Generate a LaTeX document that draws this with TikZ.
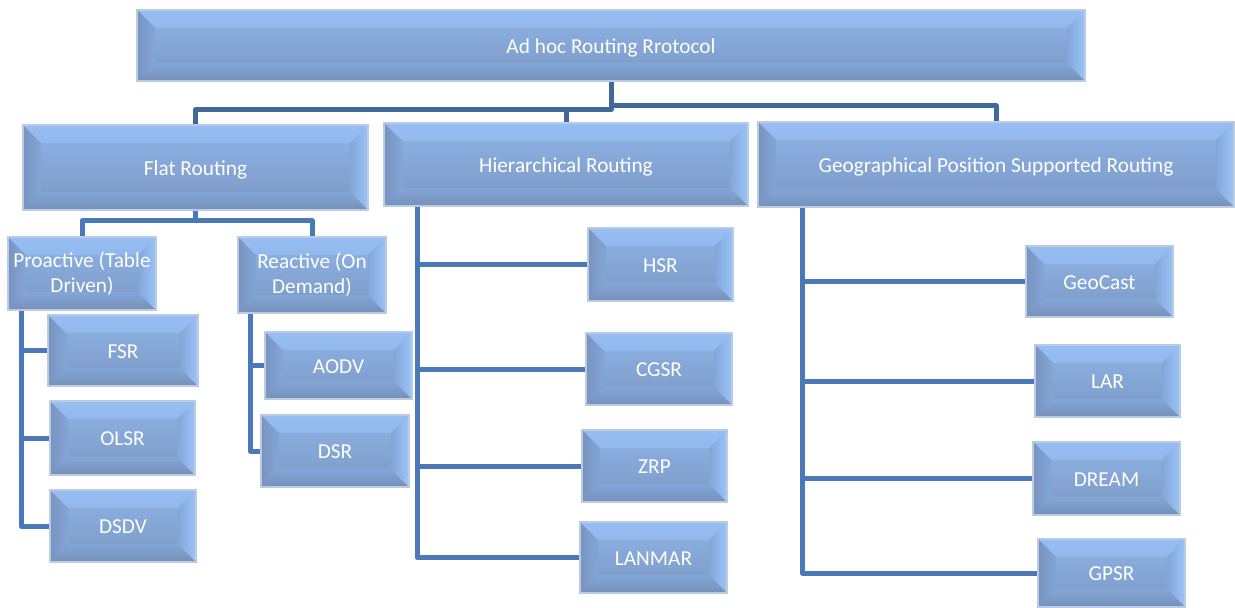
\documentclass[tikz,border=0pt]{standalone}
\usepackage{fontspec}
\setmainfont{Carlito}
\definecolor{faceT}{HTML}{8EB4E8}
\definecolor{faceM}{HTML}{83A6D8}
\definecolor{faceB}{HTML}{7C98C3}
\definecolor{bevL}{HTML}{7A93BE}
\definecolor{bevR}{HTML}{9CC4F8}
\definecolor{bevT}{HTML}{97BEF4}
\definecolor{bevB}{HTML}{7690B8}
\definecolor{bord}{HTML}{BACCE3}
\definecolor{lnA}{HTML}{41689A}
\definecolor{lnB}{HTML}{4A78B8}
\tikzset{
  bevel/.style={draw=bord, line width=1.5pt, top color=faceT, middle color=faceM, bottom color=faceB,
    text=white, font=\fontsize{21.3}{25}\selectfont, align=center, inner sep=1pt,
    path picture={
      \path[top color=bevT, bottom color=faceM]
        (path picture bounding box.north west) -- (path picture bounding box.north east)
        -- ([shift={(-18pt,-18pt)}]path picture bounding box.north east)
        -- ([shift={(18pt,-18pt)}]path picture bounding box.north west) -- cycle;
      \path[top color=faceM, bottom color=bevB]
        (path picture bounding box.south west) -- (path picture bounding box.south east)
        -- ([shift={(-18pt,18pt)}]path picture bounding box.south east)
        -- ([shift={(18pt,18pt)}]path picture bounding box.south west) -- cycle;
      \path[left color=bevL, right color=faceM]
        (path picture bounding box.south west) -- (path picture bounding box.north west)
        -- ([shift={(18pt,-18pt)}]path picture bounding box.north west)
        -- ([shift={(18pt,18pt)}]path picture bounding box.south west) -- cycle;
      \path[left color=faceM, right color=bevR]
        (path picture bounding box.south east) -- (path picture bounding box.north east)
        -- ([shift={(-18pt,-18pt)}]path picture bounding box.north east)
        -- ([shift={(-18pt,18pt)}]path picture bounding box.south east) -- cycle;
    }},
  oneline/.style={text height=15pt, text depth=0pt},
  twoline/.style={},
  conn/.style={draw=lnB, line width=5pt, line join=round},
  topconn/.style={draw=lnA, line width=5pt, line join=round}
}
\newcommand\bxn[7][oneline]{\node[bevel, #1, minimum width={(#5-#3)*1pt}, minimum height={(#6-#4)*1pt}] (#2) at ({(#3+#5)/2},{(#4+#6)/2}) {#7};}
\begin{document}
\begin{tikzpicture}[x=1pt,y=-1pt]
\useasboundingbox (0,0) rectangle (1235,608);
\bxn{root}{137}{10}{1085}{81}{Ad hoc Routing Rrotocol}
\bxn{flat}{23}{125}{368}{210}{Flat Routing}
\bxn{hier}{384}{123}{748}{206}{Hierarchical Routing}
\bxn{geo}{758}{122}{1234}{207}{Geographical Position Supported Routing}
\bxn[twoline]{pro}{8}{237}{156}{310}{Proactive (Table\\Driven)}
\bxn[twoline]{rea}{238}{237}{386}{313}{Reactive (On\\Demand)}
\bxn{fsr}{48}{315}{198}{386}{FSR}
\bxn{olsr}{50}{401}{195}{475}{OLSR}
\bxn{dsdv}{50}{490}{196}{562}{DSDV}
\bxn{aodv}{265}{332}{412}{399}{AODV}
\bxn{dsr}{261}{415}{409}{487}{DSR}
\bxn{hsr}{588}{228}{733}{301}{HSR}
\bxn{cgsr}{586}{333}{732}{405}{CGSR}
\bxn{zrp}{582}{430}{727}{502}{ZRP}
\bxn{lanmar}{580}{522}{727}{593}{LANMAR}
\bxn{geocast}{1026}{246}{1173}{317}{GeoCast}
\bxn{lar}{1035}{345}{1180}{417}{LAR}
\bxn{dream}{1033}{442}{1180}{515}{DREAM}
\bxn{gpsr}{1038}{539}{1185}{607}{GPSR}
% top level connectors
\draw[topconn] (root.south) -- ([yshift=-28pt]root.south) -| (flat.north);
\draw[topconn] ([yshift=-28pt]root.south) -| (hier.north);
\draw[topconn] ([yshift=-24pt]root.south) -| (geo.north);
% flat
\draw[conn] (flat.south) -- ([yshift=-10pt]flat.south) -| (pro.north);
\draw[conn] ([yshift=-10pt]flat.south) -| (rea.north);
\draw[conn] ([xshift=14pt]pro.south west) |- (fsr.west);
\draw[conn] ([xshift=14pt]pro.south west) |- (olsr.west);
\draw[conn] ([xshift=14pt]pro.south west) |- (dsdv.west);
\draw[conn] ([xshift=13pt]rea.south west) |- (aodv.west);
\draw[conn] ([xshift=13pt]rea.south west) |- (dsr.west);
% hierarchical
\draw[conn] ([xshift=34pt]hier.south west) |- (hsr.west);
\draw[conn] ([xshift=34pt]hier.south west) |- (cgsr.west);
\draw[conn] ([xshift=34pt]hier.south west) |- (zrp.west);
\draw[conn] ([xshift=34pt]hier.south west) |- (lanmar.west);
% geographical
\draw[conn] ([xshift=45pt]geo.south west) |- (geocast.west);
\draw[conn] ([xshift=45pt]geo.south west) |- (lar.west);
\draw[conn] ([xshift=45pt]geo.south west) |- (dream.west);
\draw[conn] ([xshift=45pt]geo.south west) |- (gpsr.west);
\end{tikzpicture}
\end{document}
